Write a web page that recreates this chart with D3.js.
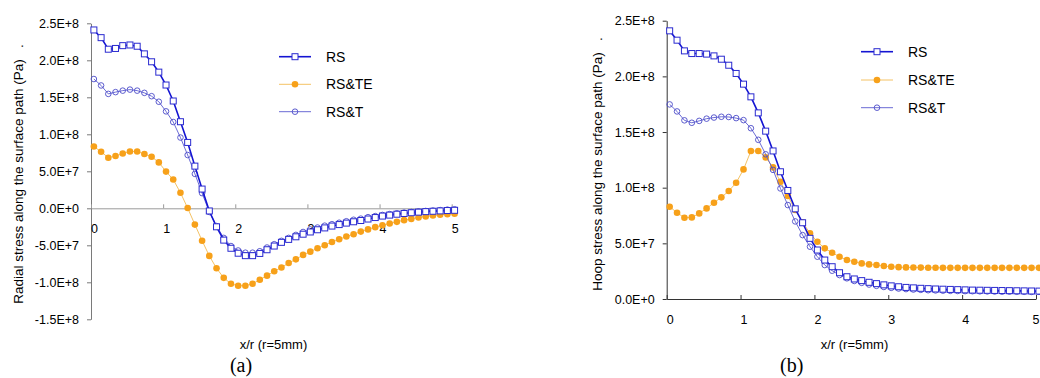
<!DOCTYPE html>
<html>
<head>
<meta charset="utf-8">
<script src="https://cdn.jsdelivr.net/npm/d3@7"></script>
<style>
  body { margin: 0; background: #fff; }
  svg { display: block; }
  text { font-family: Arial, "Liberation Sans", sans-serif; fill: #000; }
</style>
</head>
<body>
<svg id="chart" width="1040" height="378"></svg>
<script>
// x/r positions of the samples (same for both panels)
const xVals = [0.04,0.14,0.24,0.34,0.44,0.54,0.64,0.74,0.84,0.94,
  1.04,1.14,1.24,1.34,1.44,1.54,1.64,1.74,1.84,1.94,
  2.04,2.14,2.24,2.34,2.44,2.54,2.64,2.74,2.84,2.94,
  3.04,3.14,3.24,3.34,3.44,3.54,3.64,3.74,3.84,3.94,
  4.04,4.14,4.24,4.34,4.44,4.54,4.64,4.74,4.84,4.94,5.04];

// stresses in units of 1e7 Pa
const radialRS = [24.1,23.06,21.5,21.6,21.98,22.07,21.9,20.87,19.8,18.4,
  16.66,14.5,11.7,8.9,5.7,2.6,-0.36,-2.5,-4.3,-5.4,
  -6.07,-6.4,-6.4,-6.1,-5.6,-5.1,-4.6,-4.2,-3.85,-3.5,
  -3.2,-2.9,-2.65,-2.4,-2.2,-2.0,-1.82,-1.65,-1.45,-1.25,
  -1.05,-0.92,-0.8,-0.7,-0.6,-0.52,-0.45,-0.4,-0.35,-0.3,-0.27];
const radialRSTE = [8.35,7.64,6.84,7.06,7.4,7.68,7.68,7.33,6.97,6.2,
  4.96,3.89,2.1,0.04,-2.2,-4.38,-6.43,-8.1,-9.4,-10.2,
  -10.46,-10.46,-10.2,-9.65,-9.1,-8.5,-8.0,-7.4,-6.9,-6.3,
  -5.86,-5.4,-5.0,-4.55,-4.18,-3.82,-3.5,-3.15,-2.85,-2.55,
  -2.3,-2.05,-1.83,-1.6,-1.43,-1.25,-1.1,-0.98,-0.87,-0.8,-0.72];
const radialRST = [17.47,16.6,15.46,15.7,15.9,16.04,15.9,15.6,15.15,14.4,
  13.1,11.66,9.56,7.2,4.65,2.05,-0.5,-2.4,-4.0,-5.1,
  -5.7,-6.0,-6.0,-5.8,-5.3,-4.85,-4.4,-4.0,-3.6,-3.2,
  -2.85,-2.6,-2.35,-2.15,-1.95,-1.75,-1.55,-1.4,-1.2,-1.05,
  -0.9,-0.78,-0.68,-0.58,-0.5,-0.42,-0.36,-0.3,-0.24,-0.18,-0.13];

const hoopRS = [24.09,23.25,22.29,22.05,22.05,22.0,21.84,21.54,21.0,20.26,
  19.3,18.16,16.72,15.08,13.3,11.43,9.75,8.1,6.85,5.45,
  4.4,3.5,2.9,2.36,2.0,1.8,1.65,1.5,1.38,1.27,
  1.18,1.1,1.04,1.0,0.96,0.93,0.9,0.88,0.86,0.84,
  0.82,0.8,0.79,0.78,0.77,0.76,0.75,0.74,0.73,0.72,0.71];
const hoopRSTE = [8.29,7.75,7.3,7.33,7.69,8.14,8.65,9.13,9.7,10.44,
  11.64,13.29,13.3,12.72,11.82,10.53,9.26,8.0,6.9,5.9,
  5.14,4.55,4.16,3.8,3.5,3.35,3.2,3.11,3.05,2.96,
  2.9,2.86,2.84,2.83,2.82,2.81,2.81,2.8,2.8,2.8,
  2.8,2.8,2.8,2.8,2.8,2.8,2.8,2.8,2.8,2.8,2.8];
const hoopRST = [17.48,16.85,16.05,15.83,16.0,16.2,16.3,16.37,16.35,16.25,
  16.07,15.34,14.3,13.0,11.6,9.93,8.44,6.97,5.74,4.7,
  3.8,3.05,2.54,2.15,1.86,1.62,1.45,1.3,1.18,1.08,
  1.0,0.94,0.89,0.85,0.82,0.79,0.77,0.75,0.73,0.72,
  0.71,0.7,0.69,0.68,0.67,0.66,0.66,0.65,0.65,0.64,0.64];

const xTicks = [0, 1, 2, 3, 4, 5];
const radialTicks = [-15, -10, -5, 0, 5, 10, 15, 20, 25];
const hoopTicks = [0, 5, 10, 15, 20, 25];
const seriesNames = ["RS", "RS&TE", "RS&T"];

const svg = d3.select("#chart");
const fmt = d => d3.format(".1e")(d * 1e7).toUpperCase().replace("\u2212", "-");

const styles = {
    "RS": { line: "#1414d2", width: 1.6, marker: "square", mstroke: "#2a2ad0", mfill: "#fff" },
    "RS&TE": { line: "#f4c265", width: 1, marker: "dot", mstroke: "#f7a11a", mfill: "#f7a11a" },
    "RS&T": { line: "#5a5ad0", width: 0.9, marker: "circle", mstroke: "#4c4cc8", mfill: "none" }
};

function drawMarker(g, type, x, y) {
    let s = styles[type];
    if (s.marker == "square")
        g.append("rect").attr("x", x - 3).attr("y", y - 3).attr("width", 6).attr("height", 6)
            .style("fill", s.mfill).style("stroke", s.mstroke).style("stroke-width", 1);
    else if (s.marker == "dot")
        g.append("circle").attr("cx", x).attr("cy", y).attr("r", 3.3).style("fill", s.mfill);
    else
        g.append("circle").attr("cx", x).attr("cy", y).attr("r", 2.8)
            .style("fill", s.mfill).style("stroke", s.mstroke).style("stroke-width", 0.9);
}

function drawPanel(p) {
    let x = d3.scaleLinear().domain([0, 5]).range(p.xRange),
        y = d3.scaleLinear().domain(p.yDomain).range(p.yRange);
    let g = svg.append("g");

    // y axis
    let ya = g.append("g").attr("transform", "translate(" + p.xRange[0] + ",0)")
        .call(d3.axisLeft(y).tickValues(p.yTicks).tickFormat(fmt).tickSize(4).tickSizeOuter(0).tickPadding(8));
    ya.selectAll("path, line").style("stroke", p.yAxisColor);
    ya.selectAll("text").style("font-size", "12.5px");

    // x axis sits on zero, ticks point up
    let xa = g.append("g").attr("transform", "translate(0," + y(0) + ")")
        .call(d3.axisBottom(x).tickValues(xTicks).tickFormat(d3.format("d")).tickSize(-4).tickSizeOuter(0).tickPadding(16));
    xa.selectAll("path, line").style("stroke", p.xAxisColor);
    xa.selectAll("text").style("font-size", "12.5px").attr("dx", d => d == 5 ? p.lastDx : 3);

    let series = [["RS&TE", p.rste], ["RS&T", p.rst], ["RS", p.rs]];
    let line = d3.line().x(d => x(d[0])).y(d => y(d[1]));
    for (let [name, vals] of series) {
        let pts = xVals.map((xv, i) => [xv, vals[i]]);
        g.append("path").attr("d", line(pts))
            .style("fill", "none").style("stroke", styles[name].line).style("stroke-width", styles[name].width);
        let mg = g.append("g");
        pts.forEach(d => drawMarker(mg, name, x(d[0]), y(d[1])));
    }

    // legend
    seriesNames.forEach((name, i) => {
        let ly = p.legendY[i], lg = g.append("g");
        lg.append("line").attr("x1", p.legendX).attr("x2", p.legendX + 32).attr("y1", ly).attr("y2", ly)
            .style("stroke", styles[name].line).style("stroke-width", styles[name].width);
        drawMarker(lg, name, p.legendX + 16, ly);
        lg.append("text").attr("x", p.legendX + 47).attr("y", ly + 5).style("font-size", "14px").text(name);
    });

    // titles
    g.append("text").attr("transform", "translate(" + p.yTitle[0] + "," + p.yTitle[1] + ") rotate(-90)")
        .attr("text-anchor", "middle").attr("dy", "0.35em").style("font-size", "13.5px")
        .style("white-space", "pre").text(p.yLabel);
    g.append("text").attr("x", p.xTitle[0]).attr("y", p.xTitle[1]).attr("text-anchor", "middle")
        .attr("dy", "0.35em").style("font-size", "13px").text("x/r (r=5mm)");
    g.append("text").attr("x", p.caption[0]).attr("y", p.caption[1]).attr("text-anchor", "middle")
        .style("font-family", "'Liberation Serif', 'Times New Roman', serif").style("font-size", "20px").text(p.captionText);
}

drawPanel({
    xRange: [91, 451.7], yDomain: [-15, 25], yRange: [319.3, 23.3], yTicks: radialTicks,
    yAxisColor: "#7a7a7a", xAxisColor: "#9a9a9a", lastDx: 3,
    rs: radialRS, rste: radialRSTE, rst: radialRST,
    legendX: 279, legendY: [56.7, 84.3, 111.7],
    yLabel: "Radial stress along the surface path (Pa)   .", yTitle: [18, 174],
    xTitle: [273.5, 344], caption: [241, 372], captionText: "(a)"
});

drawPanel({
    xRange: [666.7, 1036], yDomain: [0, 25], yRange: [299, 20.7], yTicks: hoopTicks,
    yAxisColor: "#333", xAxisColor: "#333", lastDx: -0.5,
    rs: hoopRS, rste: hoopRSTE, rst: hoopRST,
    legendX: 861, legendY: [51.7, 80, 107.7],
    yLabel: "Hoop stress along the surface path (Pa)   .", yTitle: [597, 164],
    xTitle: [854.5, 344], caption: [791.7, 372], captionText: "(b)"
});
</script>
</body>
</html>
